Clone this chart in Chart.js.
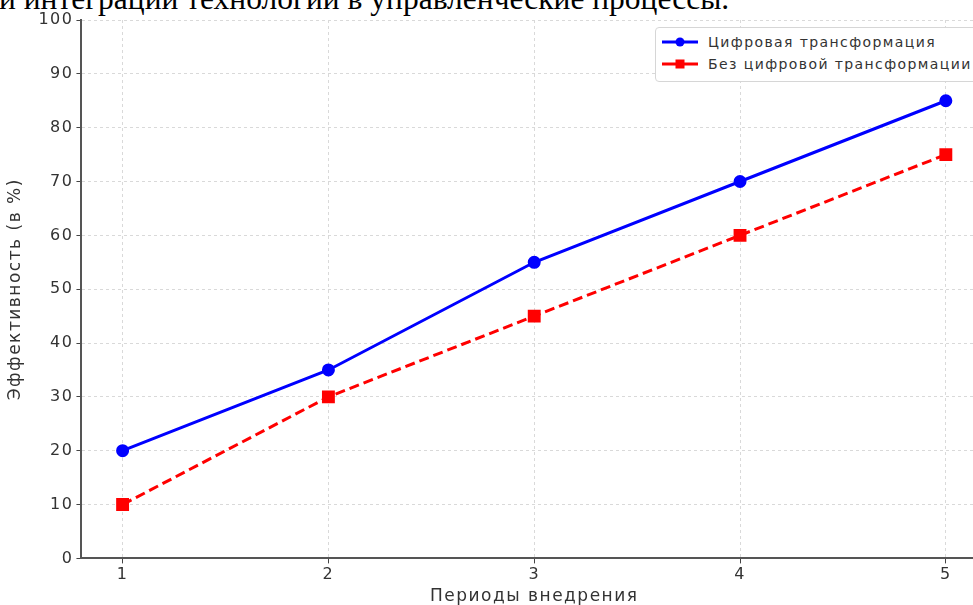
<!DOCTYPE html>
<html>
<head>
<meta charset="utf-8">
<script src="https://cdn.jsdelivr.net/npm/chart.js@4/dist/chart.umd.min.js"></script>
<style>
  html, body { margin: 0; padding: 0; background: #fff; overflow: hidden; width: 973px; height: 605px; }
  #caption { position: absolute; left: -1px; top: -17px; font-family: "Liberation Serif", serif; font-size: 31.5px; line-height: 31px; color: #000; white-space: nowrap; }
  #wrap { position: absolute; left: 0; top: 0; width: 997px; height: 605px; }
  #legend { position: absolute; left: 655px; top: 27px; width: 340px; height: 53px; border: 1px solid #d6d6d6; border-radius: 4px; background: #fff;
    font-family: "DejaVu Sans", sans-serif; font-size: 14px; letter-spacing: 1.4px; color: #333; }
  .row { position: absolute; left: 0; height: 20px; line-height: 20px; }
  .row span { position: absolute; left: 52px; white-space: nowrap; }
  .row canvas { position: absolute; left: 4px; top: 0; }
</style>
</head>
<body>
<div id="caption">и интеграции технологии в управленческие процессы.</div>
<div id="wrap"><canvas id="chart" width="997" height="605"></canvas></div>
<div id="legend">
  <div class="row" style="top:4px"><canvas id="lg0" width="40" height="20"></canvas><span id="name0"></span></div>
  <div class="row" style="top:26px"><canvas id="lg1" width="40" height="20"></canvas><span id="name1"></span></div>
</div>
<script>
const periods = [1, 2, 3, 4, 5];
const withDigital = [20, 35, 55, 70, 85];
const withoutDigital = [10, 30, 45, 60, 75];
const seriesNames = ['Цифровая трансформация', 'Без цифровой трансформации'];
const yTicks = [0, 10, 20, 30, 40, 50, 60, 70, 80, 90, 100];

const toPoints = (vals) => periods.map((p, i) => ({ x: p, y: vals[i] }));

const tickFont = { family: 'DejaVu Sans', size: 16 };
const titleFont = { family: 'DejaVu Sans', size: 17 };

// the reference text is drawn a little wider than DejaVu, so space the letters out
const spacing = {
  id: 'spacing',
  beforeLayout: (chart) => { chart.ctx.letterSpacing = '1.5px'; },
  beforeDraw: (chart) => { chart.ctx.letterSpacing = '1.5px'; },
};

new Chart(document.getElementById('chart').getContext('2d'), {
  type: 'line',
  data: {
    datasets: [
      {
        label: seriesNames[0],
        data: toPoints(withDigital),
        borderColor: '#0000ff',
        backgroundColor: '#0000ff',
        borderWidth: 3,
        pointStyle: 'circle',
        pointRadius: 5,
        tension: 0,
      },
      {
        label: seriesNames[1],
        data: toPoints(withoutDigital),
        borderColor: '#ff0000',
        backgroundColor: '#ff0000',
        borderWidth: 3,
        borderDash: [10, 5],
        pointStyle: 'rect',
        pointRadius: 7,
        tension: 0,
      },
    ],
  },
  plugins: [spacing],
  options: {
    responsive: false,
    animation: false,
    devicePixelRatio: 1,
    layout: { padding: { top: 20, right: 0, bottom: -2, left: 5 } },
    plugins: { legend: { display: false }, tooltip: { enabled: false } },
    scales: {
      x: {
        type: 'linear',
        min: 0.8,
        max: 5.2,
        afterBuildTicks: (axis) => { axis.ticks = periods.map((v) => ({ value: v })); },
        ticks: { color: '#333', font: tickFont, padding: 2 },
        grid: { color: '#d9d9d9', tickColor: '#444', tickLength: 5 },
        border: { display: true, color: '#555', width: 2, dash: [3, 3] },
        title: { display: true, text: 'Периоды внедрения', color: '#333', font: titleFont, padding: { top: 0, bottom: 0 } },
      },
      y: {
        min: 0,
        max: 100,
        afterBuildTicks: (axis) => { axis.ticks = yTicks.map((v) => ({ value: v })); },
        ticks: { color: '#333', font: tickFont, padding: 3 },
        grid: { color: '#d9d9d9', tickColor: '#444', tickLength: 5 },
        border: { display: true, color: '#555', width: 2, dash: [3, 3] },
        title: { display: true, text: 'Эффективность (в %)', color: '#333', font: titleFont, padding: { top: 0, bottom: 10 } },
      },
    },
  },
});

// legend
const swatch = (id, color, shape) => {
  const c = document.getElementById(id).getContext('2d');
  c.strokeStyle = color; c.fillStyle = color; c.lineWidth = 3;
  c.beginPath(); c.moveTo(2, 10); c.lineTo(38, 10); c.stroke();
  if (shape === 'circle') { c.beginPath(); c.arc(20, 10, 4.5, 0, Math.PI * 2); c.fill(); }
  else { c.fillRect(15.5, 5.5, 9, 9); }
};
swatch('lg0', '#0000ff', 'circle');
swatch('lg1', '#ff0000', 'rect');
document.getElementById('name0').textContent = seriesNames[0];
document.getElementById('name1').textContent = seriesNames[1];
</script>
</body>
</html>
